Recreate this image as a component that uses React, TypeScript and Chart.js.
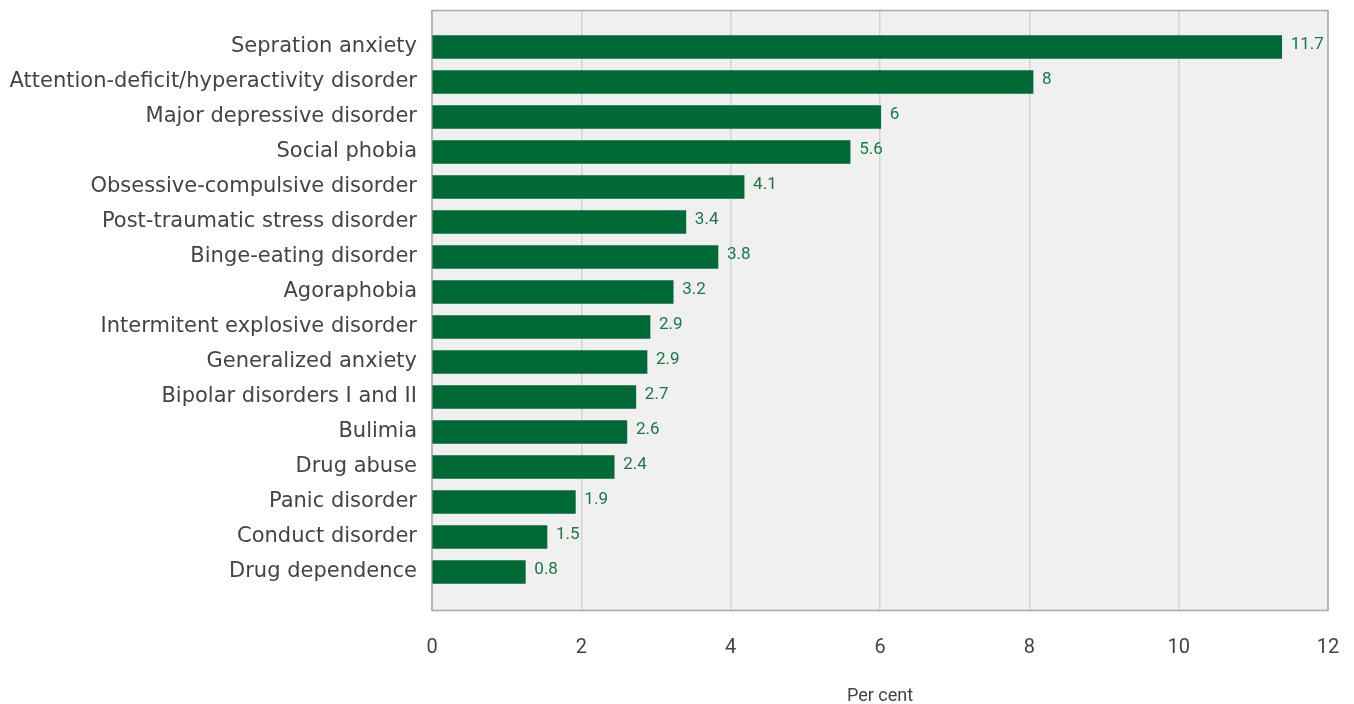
import React, { useEffect, useRef } from "react";
import { Chart, registerables } from "chart.js";

Chart.register(...registerables);

const categories = [
  "Sepration anxiety",
  "Attention-deficit/hyperactivity disorder",
  "Major depressive disorder",
  "Social phobia",
  "Obsessive-compulsive disorder",
  "Post-traumatic stress disorder",
  "Binge-eating disorder",
  "Agoraphobia",
  "Intermitent explosive disorder",
  "Generalized anxiety",
  "Bipolar disorders I and II",
  "Bulimia",
  "Drug abuse",
  "Panic disorder",
  "Conduct disorder",
  "Drug dependence",
];

// bar lengths as drawn in the picture
const barValues = [11.38, 8.05, 6.01, 5.6, 4.18, 3.4, 3.83, 3.23, 2.92, 2.88, 2.73, 2.61, 2.44, 1.92, 1.54, 1.25];

// value labels as printed
const valueLabels = ["11.7", "8", "6", "5.6", "4.1", "3.4", "3.8", "3.2", "2.9", "2.9", "2.7", "2.6", "2.4", "1.9", "1.5", "0.8"];

const xTicks = [0, 2, 4, 6, 8, 10, 12];

const FONT = "Roboto, 'Liberation Sans', Arial, sans-serif";
const CAT_FONT = "'DejaVu Sans', Roboto, sans-serif";
const TEXT = "#444444";
const BAR = "#006a37";
const VALUE_TEXT = "#157a45";

export default function App() {
  const ref = useRef<HTMLCanvasElement | null>(null);

  useEffect(() => {
    if (!ref.current) return;

    const bgPlugin = {
      id: "plotBg",
      beforeDraw(chart: any) {
        const { ctx, chartArea: a } = chart;
        ctx.save();
        ctx.fillStyle = "#f0f0f0";
        ctx.fillRect(a.left, a.top, a.right - a.left, a.bottom - a.top);
        ctx.restore();
      },
      beforeDatasetsDraw(chart: any) {
        const { ctx, chartArea: a } = chart;
        ctx.save();
        ctx.strokeStyle = "#a9a9a9";
        ctx.lineWidth = 1.5;
        ctx.strokeRect(a.left, a.top + 0.5, a.right - a.left, a.bottom - a.top);
        ctx.restore();
      },
      afterDatasetsDraw(chart: any) {
        const { ctx } = chart;
        const meta = chart.getDatasetMeta(0);
        ctx.save();
        ctx.fillStyle = VALUE_TEXT;
        ctx.font = `17px ${FONT}`;
        ctx.textAlign = "left";
        ctx.textBaseline = "middle";
        meta.data.forEach((bar: any, i: number) => {
          ctx.fillText(valueLabels[i], bar.x + 9, bar.y - 2);
        });
        ctx.restore();
      },
    };

    const noPad = (scale: any) => {
      scale.paddingTop = 0;
      scale.paddingBottom = 0;
      scale.paddingLeft = 0;
      scale.paddingRight = 0;
    };

    const chart = new Chart(ref.current, {
      type: "bar",
      data: {
        datasets: [
          {
            data: categories.map((c, i) => ({ x: barValues[i], y: i })),
            backgroundColor: BAR,
            borderWidth: 0,
            barThickness: 23,
          } as any,
        ],
      },
      options: {
        indexAxis: "y",
        animation: false,
        responsive: false,
        layout: { padding: { top: 10, right: 26, left: 0, bottom: 0 } },
        plugins: {
          legend: { display: false },
          tooltip: { enabled: false },
        },
        scales: {
          x: {
            type: "linear",
            position: "bottom",
            min: 0,
            max: 12,
            afterBuildTicks: (scale: any) => {
              scale.ticks = xTicks.map((v) => ({ value: v }));
            },
            afterFit: (scale: any) => {
              scale.height = 94;
              noPad(scale);
            },
            grid: { color: "#d3d3d3", lineWidth: 1.5, drawTicks: false },
            border: { display: false },
            ticks: {
              color: TEXT,
              font: { family: FONT, size: 20 },
              padding: 26,
              maxRotation: 0,
              autoSkip: false,
            },
            title: {
              display: true,
              text: "Per cent",
              color: TEXT,
              font: { family: FONT, size: 18 },
              padding: { top: 0, bottom: -3 },
            },
          },
          y: {
            type: "linear",
            position: "left",
            reverse: true,
            offset: false,
            min: -1.057,
            max: 16.086,
            afterBuildTicks: (scale: any) => {
              scale.ticks = categories.map((_, i) => ({ value: i }));
            },
            afterFit: (scale: any) => {
              scale.width = 432;
              noPad(scale);
            },
            grid: { display: false, drawTicks: false },
            border: { display: false },
            ticks: {
              color: TEXT,
              font: { family: CAT_FONT, size: 21 },
              padding: 15,
              autoSkip: false,
              callback: (v: any) => categories[v as number] ?? "",
            },
          },
        },
      },
      plugins: [bgPlugin],
    });

    return () => chart.destroy();
  }, []);

  return (
    <div style={{ position: "fixed", left: 0, top: 0, width: 1354, height: 704, background: "#ffffff" }}>
      <canvas ref={ref} width={1354} height={704} style={{ display: "block" }} />
    </div>
  );
}
